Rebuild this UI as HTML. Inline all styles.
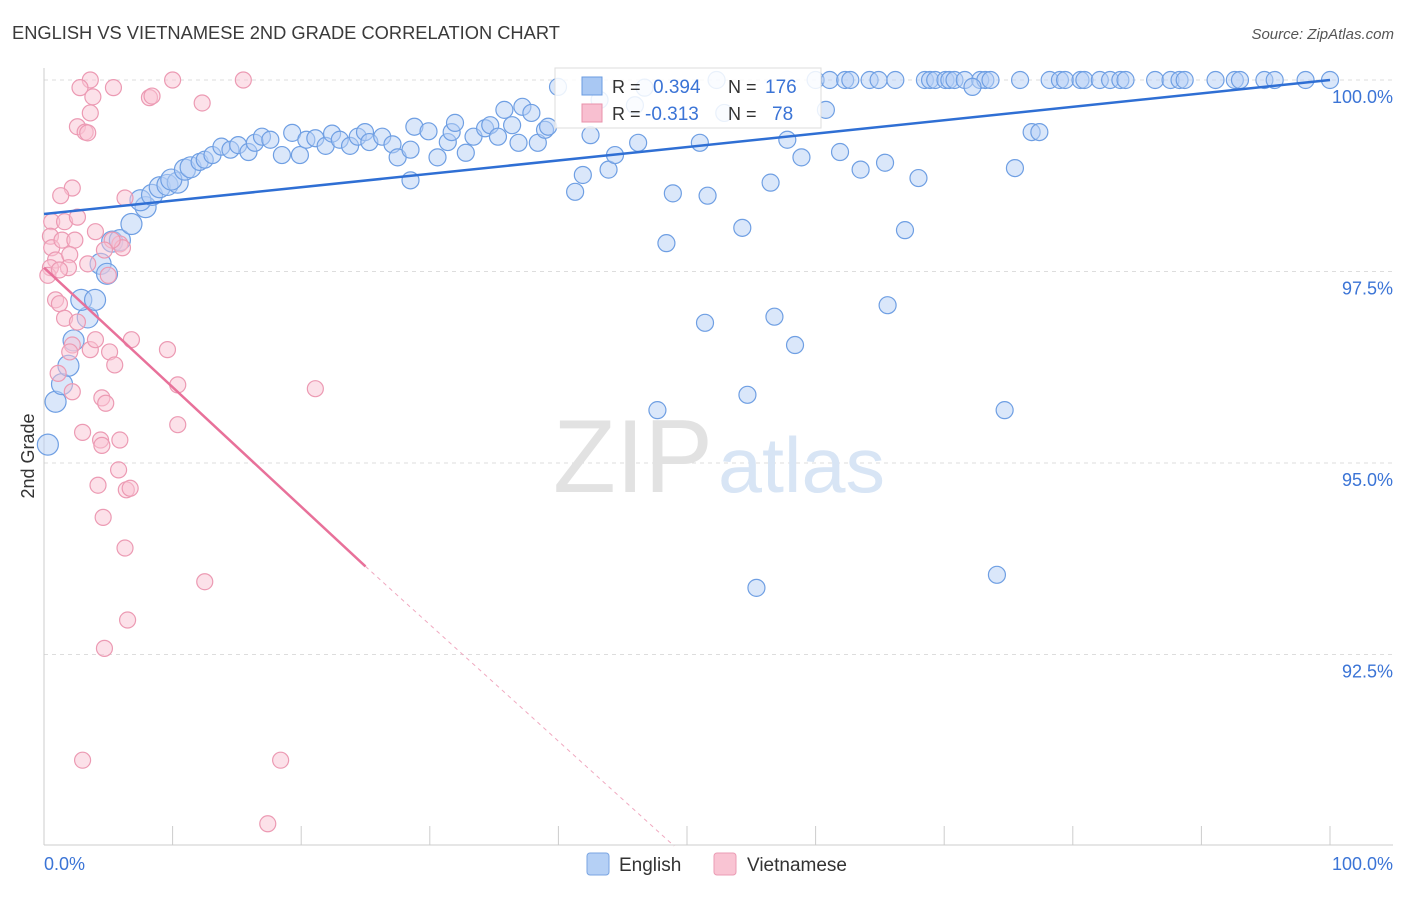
<!DOCTYPE html>
<html><head><meta charset="utf-8">
<style>
body{margin:0;background:#fff;font-family:"Liberation Sans",sans-serif;}
svg text{font-family:"Liberation Sans",sans-serif;}
</style></head>
<body>
<svg id="chart" width="1406" height="892" xmlns="http://www.w3.org/2000/svg">
<text x="12" y="39" font-size="18.3" fill="#3a3a3a">ENGLISH VS VIETNAMESE 2ND GRADE CORRELATION CHART</text>
<text x="1394" y="39" font-size="15" fill="#555" text-anchor="end" font-style="italic">Source: ZipAtlas.com</text>
<g id="grid"></g>
<g>
<text x="553" y="492" font-size="104" fill="#e2e2e2" font-family="Liberation Serif, serif" textLength="160" lengthAdjust="spacingAndGlyphs">ZIP</text>
<text x="718" y="492" font-size="78" fill="#d8e5f5" textLength="167" lengthAdjust="spacingAndGlyphs">atlas</text>
</g>
<g id="pts"></g>
<g id="lines"></g>
<text transform="translate(34,456) rotate(-90)" font-size="18" fill="#333" text-anchor="middle">2nd Grade</text>
<g>
<rect x="555" y="68" width="266" height="60" fill="#fff" fill-opacity="0.85" stroke="#ddd"/>
<rect x="582" y="77" width="20" height="18" fill="#a9c8f3" stroke="#6a9be0"/>
<text x="612" y="93" font-size="18" fill="#333">R =</text>
<text x="653" y="93" font-size="19" fill="#3b74d6">0.394</text>
<text x="728" y="93" font-size="18" fill="#333">N =</text>
<text x="765" y="93" font-size="19" fill="#3b74d6">176</text>
<rect x="582" y="104" width="20" height="18" fill="#f8bfd0" stroke="#e890aa"/>
<text x="612" y="120" font-size="18" fill="#333">R =</text>
<text x="645" y="120" font-size="19" fill="#3b74d6">-0.313</text>
<text x="728" y="120" font-size="18" fill="#333">N =</text>
<text x="772" y="120" font-size="19" fill="#3b74d6">78</text>
</g>
<g>
<rect x="587" y="853" width="22" height="22" rx="3" fill="#b5d0f5" stroke="#7aa5e2"/>
<text x="619" y="871" font-size="19" fill="#333">English</text>
<rect x="714" y="853" width="22" height="22" rx="3" fill="#f9c4d3" stroke="#eb9cb4"/>
<text x="747" y="871" font-size="19" fill="#333">Vietnamese</text>
</g>
</svg>
<script>
const yTicks=[100,97.5,95,92.5];
const yTickLabels=["100.0%","97.5%","95.0%","92.5%"];
const xTicks=[0,10,20,30,40,50,60,70,80,90,100];
const blueTopX=[52.3,60.0,61.1,62.3,62.7,64.2,64.9,66.2,68.5,68.9,69.3,70.1,70.4,70.8,71.6,72.8,73.2,73.6,75.9,78.2,79.0,79.4,80.6,80.9,82.1,82.9,83.7,84.1,86.4,87.6,88.3,88.7,91.1,92.6,93.0,94.9,95.7,98.1,100];
const blueX=[0.3,0.9,1.4,1.9,2.3,3.4,2.9,3.97,4.4,4.9,5.3,5.9,6.8,7.9,7.5,8.4,9.0,9.6,10.4,9.9,10.96,11.4,12.1,12.5,13.1,13.8,14.5,15.1,15.9,16.4,16.95,17.6,18.5,19.3,19.9,20.4,21.1,21.9,22.4,23.0,23.8,24.4,24.96,25.3,26.3,27.1,27.5,28.5,28.5,28.8,29.9,30.6,31.4,31.7,31.96,32.8,33.4,34.3,34.7,35.3,35.8,36.4,36.9,37.2,37.9,38.4,38.96,39.2,39.97,41.3,41.9,42.5,43.2,43.9,44.4,45.95,46.2,46.7,48.4,48.9,51.0,51.4,51.6,52.9,54.3,54.7,55.4,56.5,56.8,57.8,58.4,58.9,60.8,61.9,63.5,65.4,65.6,66.95,68.0,72.2,74.1,74.7,75.5,76.8,77.4,47.7];
const blueY=[95.24,95.8,96.03,96.27,96.6,96.9,97.13,97.13,97.6,97.47,97.89,97.91,98.12,98.34,98.43,98.5,98.6,98.63,98.66,98.7,98.83,98.86,98.93,98.96,99.02,99.13,99.09,99.15,99.06,99.18,99.26,99.22,99.02,99.31,99.02,99.22,99.24,99.14,99.3,99.22,99.14,99.26,99.32,99.19,99.26,99.16,98.99,99.09,98.69,99.39,99.33,98.99,99.19,99.32,99.44,99.05,99.26,99.37,99.41,99.26,99.61,99.41,99.18,99.65,99.57,99.18,99.35,99.39,99.91,98.54,98.76,99.28,99.74,98.83,99.02,99.67,99.18,99.9,97.87,98.52,99.18,96.83,98.49,99.57,98.07,95.89,93.37,98.66,96.91,99.22,96.54,98.99,99.61,99.06,98.83,98.92,97.06,98.04,98.72,99.91,93.54,95.69,98.85,99.32,99.32,95.69];
const pinkX=[3.6,2.8,3.8,5.4,8.2,8.4,10.0,12.3,15.5,3.6,2.6,3.2,3.4,2.2,1.3,6.3,0.6,1.6,2.6,0.5,0.6,1.4,2.4,4.0,0.9,2.0,1.9,0.5,0.3,1.2,3.4,5.9,6.1,5.3,4.7,5.0,0.9,1.2,1.6,2.6,2.2,2.0,3.6,4.0,5.1,5.5,6.8,9.6,1.1,2.2,10.4,21.1,4.5,4.8,3.0,4.4,4.5,5.9,10.4,5.8,4.2,6.4,6.7,4.6,6.3,12.5,6.5,4.7,3.0,18.4,17.4];
const pinkY=[100,99.9,99.78,99.9,99.77,99.79,100,99.7,100,99.57,99.39,99.32,99.31,98.59,98.49,98.46,98.15,98.15,98.21,97.96,97.81,97.91,97.91,98.02,97.65,97.72,97.55,97.55,97.45,97.52,97.6,97.86,97.81,97.91,97.78,97.45,97.13,97.08,96.89,96.84,96.54,96.45,96.48,96.61,96.45,96.28,96.61,96.48,96.17,95.93,96.02,95.97,95.85,95.78,95.4,95.3,95.23,95.3,95.5,94.91,94.71,94.65,94.67,94.29,93.89,93.45,92.95,92.58,91.12,91.12,90.29];
const blueTrend=[0,98.25,100,100];
const pinkTrend=[0,97.55,25,93.65,49,90.0];
const NS="http://www.w3.org/2000/svg";
const L=44,R=1330,T=80,B=845;
const sx=v=>L+(v/100)*(R-L);
const sy=v=>T+(100-v)*76.6;
function mk(tag,attrs,parent){const e=document.createElementNS(NS,tag);for(const k in attrs)e.setAttribute(k,attrs[k]);parent.appendChild(e);return e;}
const grid=document.getElementById('grid');
yTicks.forEach((t,i)=>{
  const l=mk('line',{x1:L,x2:1393,y1:sy(t),y2:sy(t),stroke:'#ddd','stroke-dasharray':'4,4'},grid);
  
  
  const tx=mk('text',{x:1393,y:sy(t)+23,'font-size':18,fill:'#3b74d6','text-anchor':'end'},grid);
  tx.textContent=yTickLabels[i];
  
  
});
const ax=mk('line',{x1:L,x2:1393,y1:B,y2:B,stroke:'#ccc'},grid);


const ay=mk('line',{x1:L,x2:L,y1:68,y2:B,stroke:'#ccc'},grid);


xTicks.forEach(t=>{
  const l=mk('line',{x1:sx(t),x2:sx(t),y1:826,y2:B,stroke:'#ccc'},grid);
  
  
});
const x0=mk('text',{x:44,y:870,'font-size':18,fill:'#3b74d6'},grid);x0.textContent='0.0%';


const x1=mk('text',{x:1393,y:870,'font-size':18,fill:'#3b74d6','text-anchor':'end'},grid);x1.textContent='100.0%';


const pts=document.getElementById('pts');
function dot(x,y,r,fill,stroke,name){
  const c=mk('circle',{cx:sx(x),cy:sy(y),r:r,fill:fill,'fill-opacity':0.5,stroke:stroke,'stroke-width':1.2},pts);
  
  
}
blueTopX.forEach(x=>dot(x,100,8.5,'#b5d0f5','#6f9fe3','english-point'));
blueX.forEach((x,i)=>dot(x,blueY[i],x<12?10.5:8.5,'#b5d0f5','#6f9fe3','english-point'));
pinkX.forEach((x,i)=>dot(x,pinkY[i],8,'#f9c4d3','#ec9ab3','vietnamese-point'));
const lines=document.getElementById('lines');
const bl=mk('line',{x1:sx(blueTrend[0]),y1:sy(blueTrend[1]),x2:sx(blueTrend[2]),y2:sy(blueTrend[3]),stroke:'#2f6fd4','stroke-width':2.5},lines);


const pl=mk('line',{x1:sx(pinkTrend[0]),y1:sy(pinkTrend[1]),x2:sx(pinkTrend[2]),y2:sy(pinkTrend[3]),stroke:'#e8719a','stroke-width':2.5},lines);


const pd=mk('line',{x1:sx(pinkTrend[2]),y1:sy(pinkTrend[3]),x2:sx(pinkTrend[4]),y2:sy(pinkTrend[5]),stroke:'#f0a9c0','stroke-width':1,'stroke-dasharray':'4,4'},lines);


</script>
</body></html>
